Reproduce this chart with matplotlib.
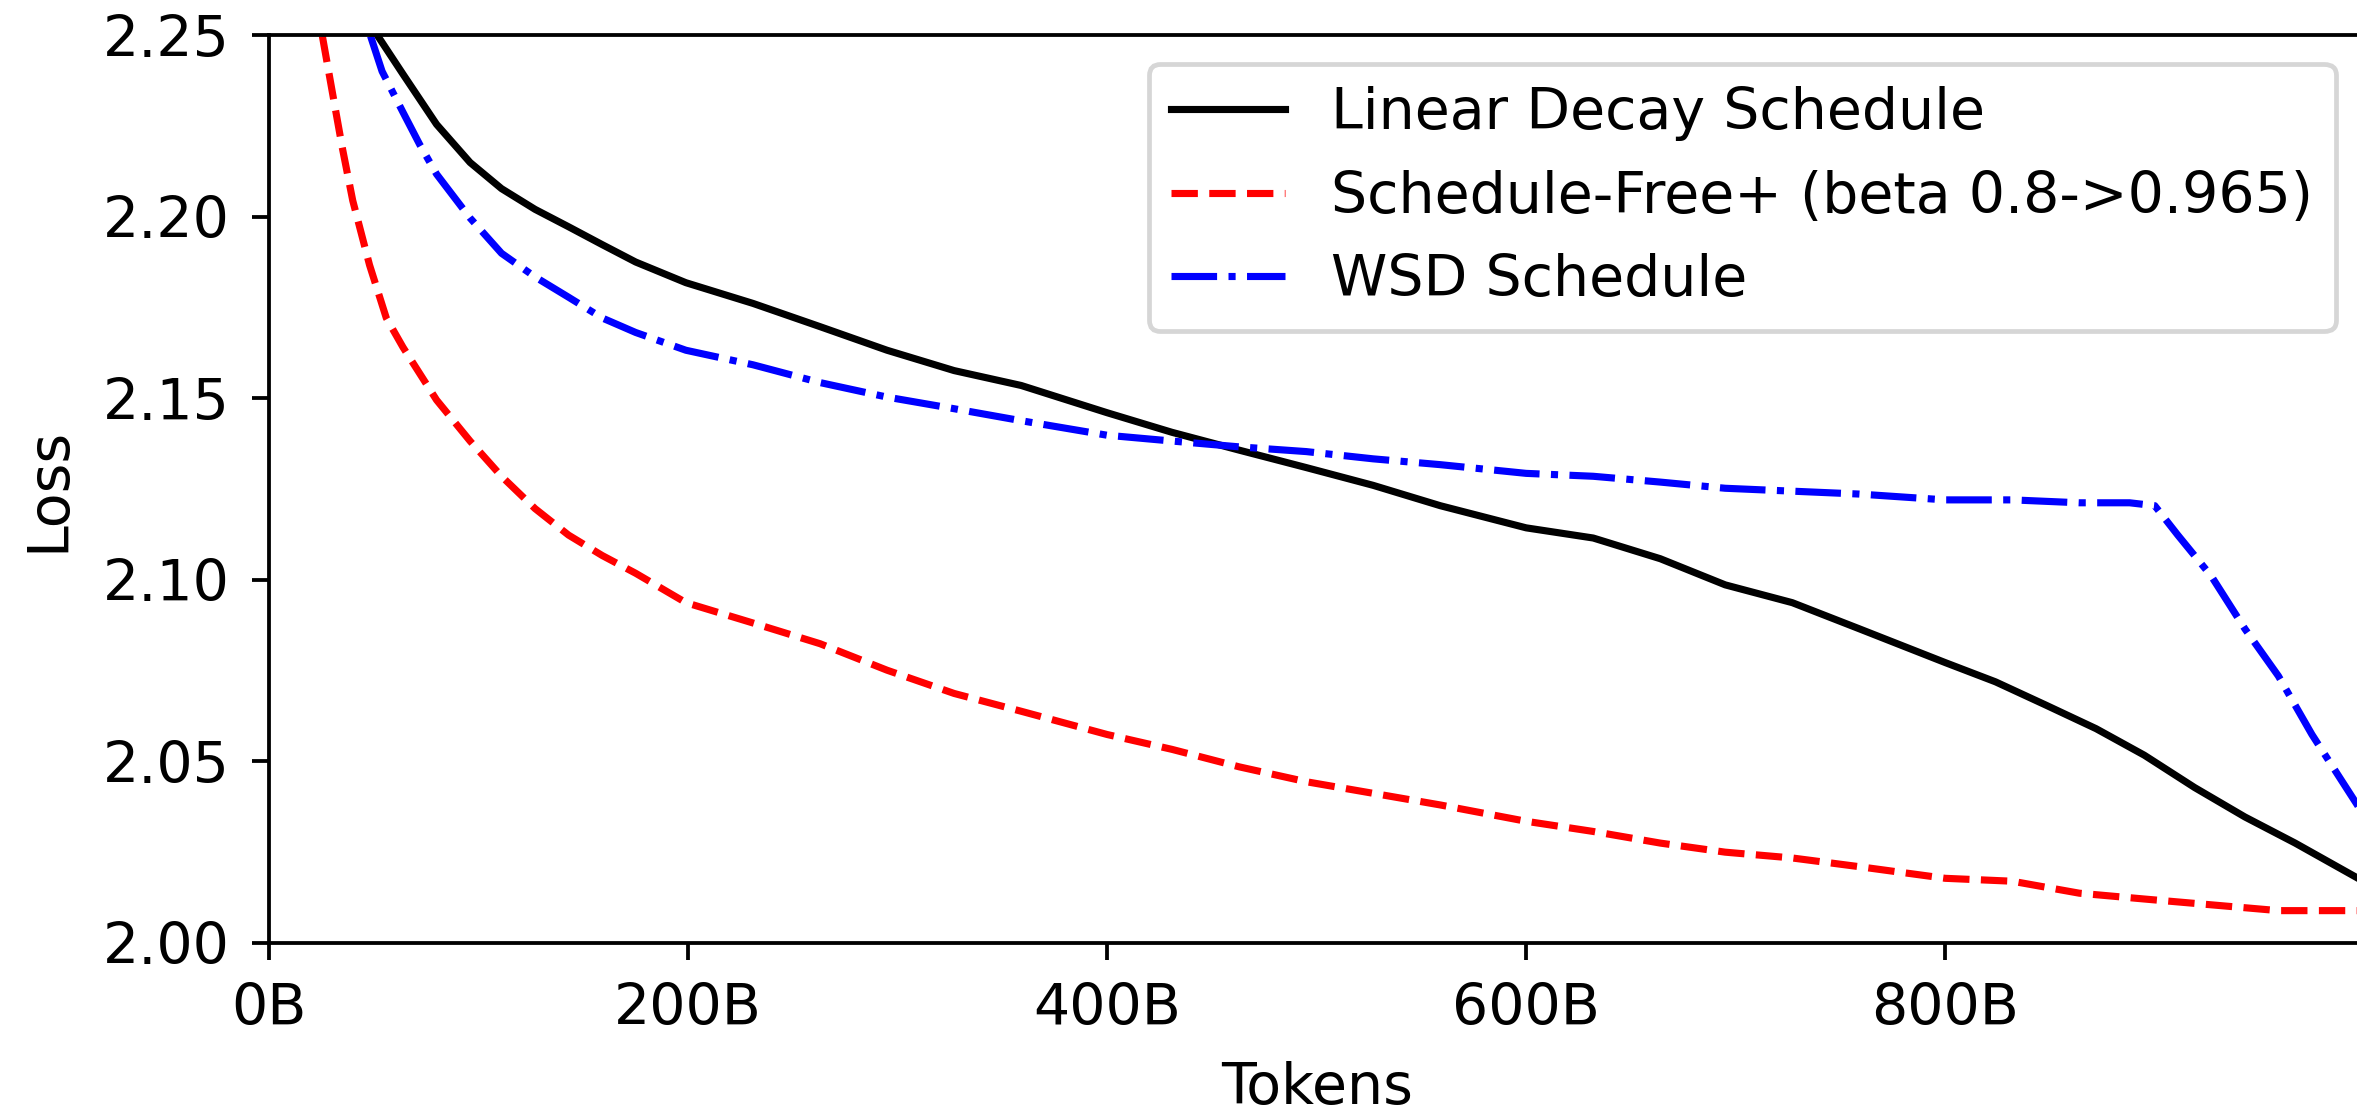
import matplotlib
matplotlib.use('Agg')
import matplotlib.pyplot as plt

plt.rcParams['font.size'] = 12

# tokens seen (billions) and eval loss for each schedule
tok_lin = [52, 64, 80, 96, 111, 127, 143, 159, 175, 199, 231, 263, 295, 327, 359, 400,
           431, 463, 495, 527, 559, 600, 632, 664, 695, 727, 759, 800, 824, 848, 872,
           895, 919, 943, 967, 997, 1000]
loss_lin = [2.2497, 2.2392, 2.2254, 2.2149, 2.2077, 2.2020, 2.1972, 2.1923, 2.1875, 2.1818,
            2.1761, 2.1697, 2.1632, 2.1576, 2.1535, 2.1460, 2.1406, 2.1357, 2.1309, 2.1260,
            2.1204, 2.1143, 2.1115, 2.1058, 2.0986, 2.0937, 2.0865, 2.0772, 2.0719, 2.0655,
            2.0590, 2.0517, 2.0428, 2.0347, 2.0275, 2.0178, 2.0170]

tok_sf = [25.5, 30, 35, 40, 48, 56, 64, 80, 96, 111, 127, 143, 159, 175, 199, 231, 263,
          295, 327, 359, 400, 431, 463, 495, 527, 559, 600, 632, 664, 695, 727, 759, 800,
          832, 864, 895, 927, 959, 1000]
loss_sf = [2.2497, 2.2351, 2.2190, 2.2044, 2.1867, 2.1721, 2.1640, 2.1495, 2.1382, 2.1285,
           2.1196, 2.1123, 2.1067, 2.1018, 2.0937, 2.0881, 2.0824, 2.0751, 2.0687, 2.0638,
           2.0574, 2.0533, 2.0485, 2.0444, 2.0412, 2.0380, 2.0335, 2.0307, 2.0275, 2.0250,
           2.0234, 2.0210, 2.0178, 2.0170, 2.0137, 2.0121, 2.0105, 2.0089, 2.0089]

tok_wsd = [48.5, 54, 64, 72, 80, 96, 111, 127, 143, 159, 175, 199, 231, 263, 295, 327, 359,
           400, 431, 463, 495, 527, 559, 600, 632, 664, 695, 727, 759, 800, 832, 864, 888,
           900, 911, 927, 943, 959, 975, 1000]
loss_wsd = [2.2497, 2.2400, 2.2287, 2.2198, 2.2117, 2.1996, 2.1899, 2.1834, 2.1778, 2.1721,
            2.1681, 2.1632, 2.1592, 2.1543, 2.1503, 2.1471, 2.1438, 2.1398, 2.1382, 2.1366,
            2.1353, 2.1333, 2.1317, 2.1293, 2.1285, 2.1269, 2.1252, 2.1244, 2.1236, 2.1220,
            2.1220, 2.1212, 2.1212, 2.1204, 2.1123, 2.1010, 2.0865, 2.0735, 2.0574, 2.0350]

xticks = [0, 200, 400, 600, 800]
xticklabels = ['0B', '200B', '400B', '600B', '800B']

DPI = 342
fig = plt.figure(figsize=(2357/DPI, 1115/DPI), dpi=DPI)
ax = fig.add_axes([0.1141, 0.1543, 0.889, 0.8143])
ax.plot(tok_lin, loss_lin, color='black', linestyle='-', linewidth=1.5, label='Linear Decay Schedule')
ax.plot(tok_sf, loss_sf, color='red', linestyle='--', linewidth=1.5, label='Schedule-Free+ (beta 0.8->0.965)')
ax.plot(tok_wsd, loss_wsd, color='blue', linestyle='-.', linewidth=1.5, label='WSD Schedule')
ax.set_xlim(0, 1000)
ax.set_ylim(2.0, 2.25)
ax.set_xticks(xticks)
ax.set_xticklabels(xticklabels)
ax.set_yticks([2.00, 2.05, 2.10, 2.15, 2.20, 2.25])
ax.tick_params(pad=4.8)
ax.set_xlabel('Tokens', labelpad=5)
ax.set_ylabel('Loss', labelpad=5.5)
ax.legend(loc='upper right')
fig.savefig('out.png', dpi=DPI)
